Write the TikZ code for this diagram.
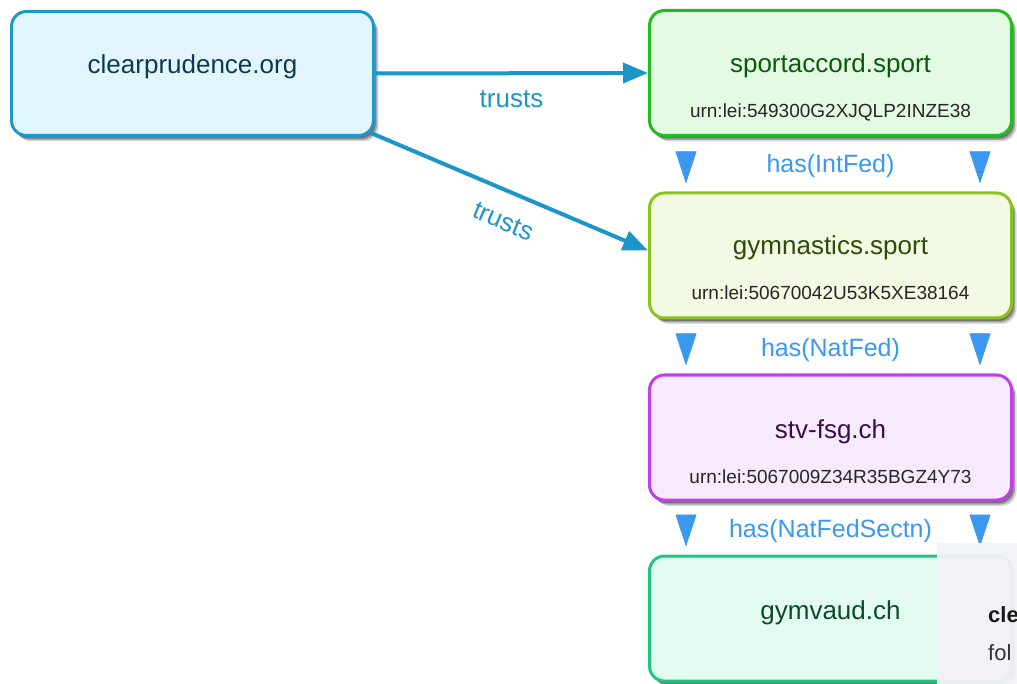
\documentclass[tikz,border=0pt]{standalone}
\usepackage{fontspec}
\setmainfont{Liberation Sans}
\usetikzlibrary{arrows.meta,shadows,calc}
\definecolor{cpBorder}{HTML}{1E98CC}
\definecolor{cpFill}{HTML}{E1F5FC}
\definecolor{cpText}{HTML}{10384F}
\definecolor{saBorder}{HTML}{22BB22}
\definecolor{saFill}{HTML}{E3FBE3}
\definecolor{saText}{HTML}{0B5A0B}
\definecolor{gsBorder}{HTML}{88C41C}
\definecolor{gsFill}{HTML}{F3FAE3}
\definecolor{gsText}{HTML}{2F4A0C}
\definecolor{stBorder}{HTML}{C13FEB}
\definecolor{stFill}{HTML}{F8EAFD}
\definecolor{stText}{HTML}{3C0C4E}
\definecolor{gvBorder}{HTML}{1FC77E}
\definecolor{gvFill}{HTML}{E3FAF1}
\definecolor{gvText}{HTML}{0C4A2C}
\definecolor{hasBlue}{HTML}{3A98F0}
\definecolor{trustBlue}{HTML}{1A96C8}
\definecolor{tipFill}{HTML}{F3F2F7}
\begin{document}
\begin{tikzpicture}[x=1pt,y=1pt,
 box/.style={rectangle, rounded corners=15pt, line width=3pt, minimum width=362pt, minimum height=125pt, inner sep=0pt,
   general shadow={shadow xshift=5pt,shadow yshift=-6pt,opacity=0.15,fill=black},
   general shadow={shadow xshift=3.5pt,shadow yshift=-4.5pt,opacity=0.25,fill=black},
   general shadow={shadow xshift=2pt,shadow yshift=-3pt,opacity=0.3,fill=black}},
 title/.style={anchor=base, inner sep=0pt, font=\fontsize{26}{30}\selectfont},
 urn/.style={anchor=base, inner sep=0pt, font=\fontsize{19}{22}\selectfont, text=black!85},
 trust/.style={draw=trustBlue, line width=4pt, -{Triangle[length=25pt,width=20pt]}},
 trustlabel/.style={text=trustBlue, inner sep=0pt, font=\fontsize{26}{30}\selectfont},
 has/.style={draw=hasBlue, fill=hasBlue, line width=0.5pt, -{Triangle[length=32pt,width=21pt]}, shorten <=14pt, shorten >=8pt},
 haslabel/.style={anchor=base, inner sep=0pt, text=hasBlue, font=\fontsize{25}{30}\selectfont},
]
\useasboundingbox (0,0) rectangle (1017,-684);

% boxes
\node[box, draw=cpBorder, fill=cpFill, minimum height=124pt] (cp) at (192.5,-73.5) {};
\node[box, draw=saBorder, fill=saFill] (sa) at (830.5,-73) {};
\node[box, draw=gsBorder, fill=gsFill] (gs) at (830.5,-255.5) {};
\node[box, draw=stBorder, fill=stFill] (st) at (830.5,-437.5) {};
\node[box, draw=gvBorder, fill=gvFill] (gv) at (830.5,-618.5) {};

% texts
\node[title, text=cpText] (cpt) at (192.5,-74) {clearprudence.org};
\node[title, text=saText] (sat) at (830.5,-73) {sportaccord.sport};
\node[urn] (sau) at (830.5,-118) {urn:lei:549300G2XJQLP2INZE38};
\node[title, text=gsText] (gst) at (830.5,-255) {gymnastics.sport};
\node[urn] (gsu) at (830.5,-300) {urn:lei:50670042U53K5XE38164};
\node[title, text=stText] (stt) at (830.5,-438) {stv-fsg.ch};
\node[urn] (stu) at (830.5,-483) {urn:lei:5067009Z34R35BGZ4Y73};
\node[title, text=gvText] (gvt) at (830.5,-619) {gymvaud.ch};

% trusts connectors
\draw[trust] (cp.east) -- (sa.west)
  node[trustlabel, midway, yshift=-26pt] (tl1) {trusts};
\draw[trust] ($(cp.south east)+(-4,4)$) -- ($(gs.west)+(0,5)$)
  node[trustlabel, pos=0.52, sloped, below=19pt] (tl2) {trusts};

% has connectors
\draw[has] ($(sa.south west)+(38,0)$) -- ($(gs.north west)+(38,0)$);
\draw[has] ($(sa.south east)+(-33,0)$) -- ($(gs.north east)+(-33,0)$);
\node[haslabel] (h1) at (830.5,-173) {has(IntFed)};
\draw[has] ($(gs.south west)+(38,0)$) -- ($(st.north west)+(38,0)$);
\draw[has] ($(gs.south east)+(-33,0)$) -- ($(st.north east)+(-33,0)$);
\node[haslabel] (h2) at (830.5,-356) {has(NatFed)};
\draw[has] ($(st.south west)+(38,0)$) -- ($(gv.north west)+(38,0)$);
\draw[has] ($(st.south east)+(-33,0)$) -- ($(gv.north east)+(-33,0)$);
\node[haslabel] (h3) at (830.5,-537) {has(NatFedSectn)};

% tooltip overlay
\begin{scope}
\clip (0,0) rectangle (1017,-684);
\node[fill=tipFill, fill opacity=0.95, inner sep=0pt, minimum width=100pt, minimum height=160pt, anchor=north west] (tip) at (937,-543) {};
\node[anchor=base west, inner sep=0pt, font=\bfseries\fontsize{22}{24}\selectfont, text=black!90] (tipa) at (988,-622) {cle};
\node[anchor=base west, inner sep=0pt, font=\fontsize{22}{24}\selectfont, text=black!80] (tipb) at (988,-660) {fol};
\end{scope}
\end{tikzpicture}
\end{document}
